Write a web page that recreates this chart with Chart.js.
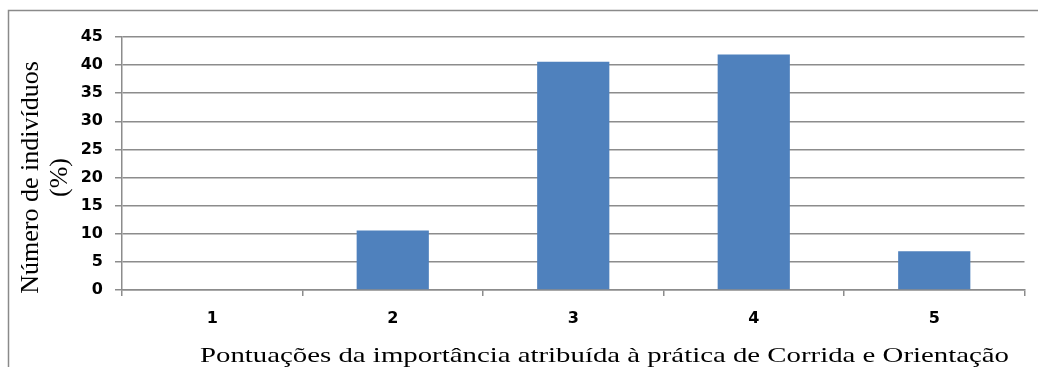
<!DOCTYPE html>
<html>
<head>
<meta charset="utf-8">
<script src="https://cdn.jsdelivr.net/npm/chart.js@4"></script>
<style>
  html, body { margin: 0; padding: 0; background: #fff; }
  #wrap { position: relative; width: 1038px; height: 367px; }
</style>
</head>
<body>
<div id="wrap"><canvas id="c" width="1038" height="367"></canvas></div>
<script>
// Importance scores (1–5) and share of respondents in each, in percent
const categories = ['1', '2', '3', '4', '5'];
const percentages = [0, 10.6, 40.6, 41.9, 6.9];
const yTicks = [0, 5, 10, 15, 20, 25, 30, 35, 40, 45];

const yTitleLines = ['Número de indivíduos', '(%)'];
const xTitle = 'Pontuações da importância atribuída à prática de Corrida e Orientação';

const gridGrey = '#8c8c8c';

// Frame, axis titles drawn on the canvas
const decorations = {
  id: 'decorations',
  beforeDraw(chart) {
    const ctx = chart.ctx;
    ctx.save();
    ctx.fillStyle = '#ffffff';
    ctx.fillRect(0, 0, chart.width, chart.height);
    ctx.strokeStyle = '#8a8a8a';
    ctx.lineWidth = 1.5;
    ctx.beginPath();
    ctx.moveTo(8.5, chart.height);
    ctx.lineTo(8.5, 10.5);
    ctx.lineTo(chart.width, 10.5);
    ctx.stroke();
    ctx.restore();
  },
  afterDraw(chart) {
    const ctx = chart.ctx;
    const area = chart.chartArea;
    ctx.save();
    ctx.fillStyle = '#000';

    // vertical title, two lines
    ctx.font = '26px "Liberation Serif", "Times New Roman", serif';
    ctx.textAlign = 'center';
    ctx.textBaseline = 'alphabetic';
    const cy = area.top + 140.5;
    const baselines = [38, 67];
    yTitleLines.forEach((line, i) => {
      ctx.save();
      ctx.translate(baselines[i], cy);
      ctx.rotate(-Math.PI / 2);
      ctx.fillText(line, 0, 0);
      ctx.restore();
    });

    // horizontal title, set wide
    ctx.font = '22px "Liberation Serif", "Times New Roman", serif';
    ctx.save();
    ctx.translate(604.5, 361.5);
    ctx.scale(1.31, 1);
    ctx.fillText(xTitle, 0, 0);
    ctx.restore();

    ctx.restore();
  }
};

new Chart(document.getElementById('c'), {
  type: 'bar',
  data: {
    labels: categories,
    datasets: [{
      data: percentages,
      backgroundColor: '#4f81bd',
      borderWidth: 0,
      categoryPercentage: 1.0,
      barPercentage: 0.4
    }]
  },
  options: {
    responsive: false,
    animation: false,
    devicePixelRatio: 1,
    layout: { padding: { left: 0, right: 13.5, top: 37, bottom: 0 } },
    plugins: {
      legend: { display: false },
      tooltip: { enabled: false },
      title: { display: false }
    },
    scales: {
      x: {
        afterFit(scale) { scale.height = 77; },
        grid: {
          offset: true,
          drawOnChartArea: false,
          drawTicks: true,
          tickLength: 6,
          color: gridGrey,
          lineWidth: 1.5
        },
        border: { display: true, color: gridGrey, width: 1.5 },
        ticks: {
          color: '#000',
          padding: 13,
          font: { family: '"DejaVu Sans", sans-serif', size: 16, weight: 'bold' }
        }
      },
      y: {
        min: 0,
        max: 45,
        afterFit(scale) { scale.width = 122; },
        afterBuildTicks(scale) { scale.ticks = yTicks.map(v => ({ value: v })); },
        grid: {
          drawTicks: true,
          tickLength: 7,
          color: gridGrey,
          lineWidth: 1.5
        },
        border: { display: true, color: gridGrey, width: 1.5 },
        ticks: {
          color: '#000',
          padding: 12,
          font: { family: '"DejaVu Sans", sans-serif', size: 16, weight: 'bold' }
        }
      }
    }
  },
  plugins: [decorations]
});
</script>
</body>
</html>
